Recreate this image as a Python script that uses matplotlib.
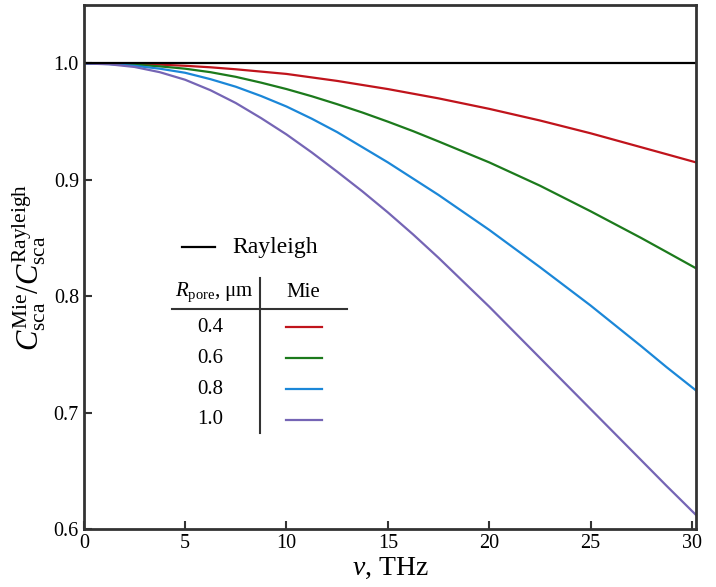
import numpy as np
import matplotlib.pyplot as plt

plt.rcParams['font.family'] = ['Liberation Serif', 'DejaVu Serif']
plt.rcParams['mathtext.fontset'] = 'custom'
plt.rcParams['mathtext.rm'] = 'Liberation Serif'
plt.rcParams['mathtext.it'] = 'Liberation Serif:italic'

# frequency, THz
nu = [0, 1.25, 2.5, 3.75, 5, 6.25, 7.5, 8.75, 10, 11.25, 12.5, 13.75, 15,
      16.25, 17.5, 18.75, 20, 21.25, 22.5, 23.75, 25, 26.25, 27.5, 28.75, 30.2]
# C_sca Mie / C_sca Rayleigh for each pore radius
mie_04 = [1.000, 1.000, 0.9995, 0.999, 0.998, 0.9967, 0.995, 0.993, 0.991, 0.988, 0.985, 0.9815, 0.978,
          0.974, 0.970, 0.9655, 0.961, 0.956, 0.951, 0.9455, 0.940, 0.934, 0.928, 0.922, 0.915]
mie_06 = [1.000, 0.9998, 0.999, 0.9975, 0.9955, 0.9925, 0.9885, 0.9835, 0.978, 0.9718, 0.965, 0.9578, 0.950,
          0.9418, 0.933, 0.924, 0.915, 0.905, 0.895, 0.884, 0.873, 0.8615, 0.850, 0.838, 0.824]
mie_08 = [1.000, 0.9995, 0.998, 0.9955, 0.992, 0.9865, 0.980, 0.972, 0.963, 0.9525, 0.941, 0.928, 0.915,
          0.901, 0.887, 0.872, 0.857, 0.841, 0.825, 0.8085, 0.792, 0.7745, 0.757, 0.739, 0.719]
mie_10 = [1.000, 0.9993, 0.997, 0.9925, 0.986, 0.977, 0.966, 0.953, 0.939, 0.9235, 0.907, 0.890, 0.872,
          0.853, 0.833, 0.812, 0.791, 0.769, 0.747, 0.725, 0.703, 0.681, 0.659, 0.637, 0.612]
rayleigh = [1.0] * len(nu)

radii = ['0.4', '0.6', '0.8', '1.0']
series = [mie_04, mie_06, mie_08, mie_10]
colors = ['#c0141c', '#1c7a1c', '#1b87d8', '#7565b5']

fig = plt.figure(figsize=(7.16, 5.87), dpi=100)
ax = fig.add_axes([0.117, 0.099, 0.855, 0.892])

for y, c in zip(series, colors):
    ax.plot(nu, y, color=c, lw=1.6)
ax.plot(nu, rayleigh, color='black', lw=1.6)

ax.set_xlim(0, 30.2)
ax.set_ylim(0.6, 1.05)
ax.set_xticks([0, 5, 10, 15, 20, 25, 30])
ax.set_yticks([0.6, 0.7, 0.8, 0.9, 1.0])
ax.set_yticklabels(['0.6', '0.7', '0.8', '0.9', '1.0'])
ax.tick_params(direction='in', length=6, width=1.5, labelsize=14.5, color='#333333')
for s in ax.spines.values():
    s.set_linewidth(2)
    s.set_color('#333333')

ax.set_xlabel(r'$v$, THz', fontsize=20, labelpad=2)
ax.set_ylabel(r'$C_{\rm sca}^{\rm Mie}/C_{\rm sca}^{\rm Rayleigh}$', fontsize=22, labelpad=4)

# legend table
t = ax.transAxes
ax.plot([0.160, 0.214], [0.538, 0.538], color='black', lw=1.6, transform=t)
ax.text(0.242, 0.538, 'Rayleigh', fontsize=17, va='center', ha='left', transform=t)
ax.plot([0.288, 0.288], [0.183, 0.479], color='#333333', lw=1.5, transform=t)
ax.plot([0.144, 0.430], [0.420, 0.420], color='#333333', lw=1.5, transform=t)
ax.text(0.214, 0.452, r'$R_{\rm pore}$, μm', fontsize=15, ha='center', va='center', transform=t)
ax.text(0.358, 0.452, 'Mie', fontsize=15, ha='center', va='center', transform=t)
rows_y = [0.385, 0.326, 0.267, 0.208]
for r, c, yy in zip(radii, colors, rows_y):
    ax.text(0.206, yy, r, fontsize=15, ha='center', va='center', transform=t)
    ax.plot([0.330, 0.389], [yy, yy], color=c, lw=1.6, transform=t)

fig.savefig('out.png', dpi=100)
